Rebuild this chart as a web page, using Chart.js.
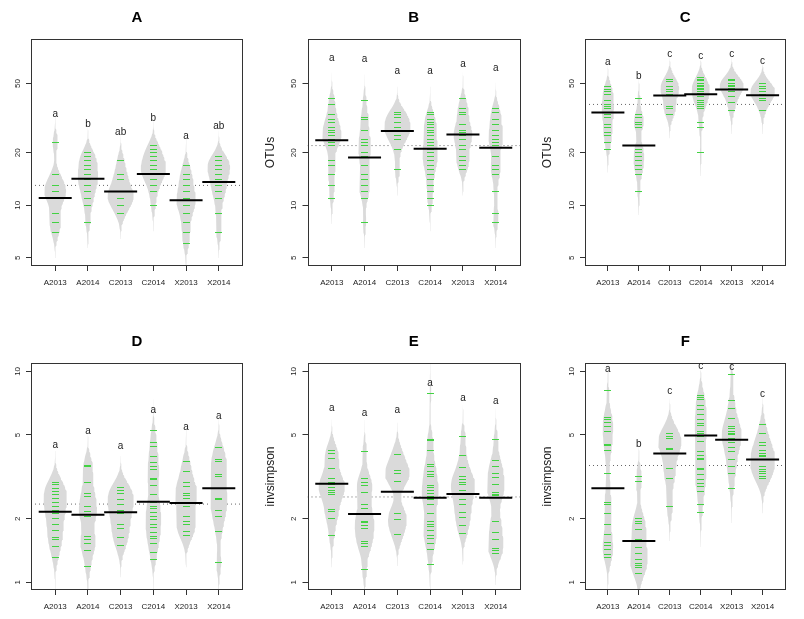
<!DOCTYPE html>
<html>
<head>
<meta charset="utf-8">
<script src="https://cdn.jsdelivr.net/npm/chart.js@4.4.1/dist/chart.umd.min.js"></script>
<style>
  html, body { margin: 0; padding: 0; background: #fff; }
  #wrap { position: relative; width: 804px; height: 619px; overflow: hidden; }
  #wrap canvas { position: absolute; left: 0; top: 0; }
</style>
</head>
<body>
<div id="wrap">
  <canvas id="pA" width="804" height="619"></canvas>
  <canvas id="pB" width="804" height="619"></canvas>
  <canvas id="pC" width="804" height="619"></canvas>
  <canvas id="pD" width="804" height="619"></canvas>
  <canvas id="pE" width="804" height="619"></canvas>
  <canvas id="pF" width="804" height="619"></canvas>
</div>
<script>
// groups on the x axis, same for every panel
const groups = ['A2013', 'A2014', 'C2013', 'C2014', 'X2013', 'X2014'];
const otuTicks = [5, 10, 20, 50];
const invTicks = [1, 2, 5, 10];

// ---- panel A (richness) : one array per group, same order as groups
const valuesA = [
  [7, 8, 9, 11, 11, 12, 13, 13, 15, 23],
  [8, 10, 11, 12, 13, 14, 14, 15, 16, 17, 18, 19, 20],
  [9, 10, 11, 11, 12, 12, 14, 15, 18],
  [10, 12, 13, 14, 15, 15, 16, 16, 17, 17, 18, 19, 20, 21, 22],
  [6, 7, 8, 9, 10, 10, 11, 11, 12, 13, 14, 15, 17],
  [7, 9, 11, 12, 13, 14, 15, 16, 17, 17, 18, 19]
];
const meansA = [11, 14.2, 12, 15.1, 10.7, 13.6];
const overallA = 13;
const lettersA = ['a', 'b', 'ab', 'b', 'a', 'ab'];
const letterAtA = [33.3, 29.1, 26.4, 31.5, 24.9, 28.4];

// ---- panel B (OTUs)
const valuesB = [
  [11, 13, 15, 17, 18, 22, 23, 24, 24, 25, 26, 27, 28, 30, 31, 33, 38, 41],
  [8, 11, 12, 13, 14, 15, 17, 19, 20, 22, 23, 24, 27, 31, 32, 40],
  [16, 21, 24, 25, 27, 27, 28, 30, 32, 33, 34],
  [10, 11, 12, 13, 14, 15, 16, 17, 17, 18, 18, 19, 20, 20, 21, 21, 22, 23, 24, 25, 26, 27, 28, 29, 30, 31, 33, 34],
  [16, 17, 18, 19, 21, 22, 24, 25, 26, 26, 27, 29, 33, 34, 36, 41],
  [8, 9, 12, 15, 16, 17, 19, 22, 23, 24, 25, 27, 29, 31, 34, 36]
];
const meansB = [23.6, 18.8, 26.7, 21.1, 25.5, 21.4];
const overallB = 22;
const lettersB = ['a', 'a', 'a', 'a', 'a', 'a'];
const letterAtB = [70, 68.8, 58.7, 58.7, 64.3, 60.8];

// ---- panel C (OTUs)
const valuesC = [
  [21, 23, 25, 26, 28, 29, 32, 33, 34, 36, 37, 38, 40, 43, 45, 46, 48],
  [12, 15, 16, 17, 18, 19, 20, 21, 22, 28, 29, 30, 32, 33, 41],
  [33, 36, 37, 43, 45, 46, 48, 51, 53],
  [20, 28, 30, 36, 37, 38, 39, 40, 42, 43, 44, 45, 46, 46, 47, 48, 49, 50, 52, 53, 54],
  [35, 39, 42, 45, 47, 48, 49, 49, 50, 52, 53],
  [35, 40, 41, 43, 45, 45, 47, 48, 50]
];
const meansC = [34.1, 22, 42.7, 43.3, 46.2, 42.8];
const overallC = 37.9;
const lettersC = ['a', 'b', 'c', 'c', 'c', 'c'];
const letterAtC = [66.1, 55.1, 73.4, 71.8, 73.4, 66.9];

// ---- panel D (diversity)
const valuesD = [
  [1.31, 1.48, 1.59, 1.64, 1.77, 1.89, 2.0, 2.13, 2.2, 2.3, 2.39, 2.5, 2.6, 2.69, 2.79, 2.9, 2.97],
  [1.19, 1.42, 1.53, 1.59, 1.65, 2.05, 2.09, 2.16, 2.29, 2.55, 2.65, 2.97, 3.54, 3.59],
  [1.49, 1.63, 1.8, 1.89, 2.13, 2.2, 2.35, 2.46, 2.65, 2.74, 2.81],
  [1.29, 1.38, 1.52, 1.62, 1.65, 1.73, 1.82, 1.89, 1.99, 2.05, 2.14, 2.24, 2.29, 2.39, 2.62, 2.88, 3.06, 3.12, 3.41, 3.54, 3.71, 3.94, 4.4, 4.62, 5.23],
  [1.66, 1.74, 1.88, 1.94, 2.05, 2.29, 2.5, 2.57, 2.65, 2.85, 2.97, 3.35, 3.74],
  [1.24, 1.74, 2.05, 2.2, 2.46, 2.5, 2.79, 3.17, 3.23, 3.74, 3.83, 4.36]
];
const meansD = [2.16, 2.09, 2.15, 2.41, 2.38, 2.79];
const overallD = 2.35;
const lettersD = ['a', 'a', 'a', 'a', 'a', 'a'];
const letterAtD = [4.45, 5.23, 4.4, 6.53, 5.46, 6.16];

// ---- panel E (invsimpson)
const valuesE = [
  [1.66, 2.01, 2.16, 2.22, 2.6, 2.66, 2.74, 2.82, 2.9, 2.98, 3.12, 3.45, 3.88, 4.1, 4.2],
  [1.15, 1.48, 1.53, 1.56, 1.8, 1.87, 1.92, 1.95, 2.24, 2.33, 2.66, 2.88, 2.98, 3.09, 4.16],
  [1.69, 1.98, 2.13, 3.0, 3.29, 3.39, 4.05],
  [1.22, 1.43, 1.53, 1.62, 1.66, 1.77, 1.84, 1.88, 1.95, 2.13, 2.33, 2.46, 2.5, 2.55, 2.65, 2.74, 2.81, 2.88, 3.17, 3.26, 3.35, 3.54, 3.63, 4.2, 4.7, 4.77, 7.83],
  [1.71, 1.86, 2.03, 2.15, 2.33, 2.46, 2.65, 2.74, 2.9, 2.97, 3.08, 3.17, 3.51, 4.01, 4.91],
  [1.37, 1.42, 1.45, 1.59, 1.72, 1.94, 1.95, 2.57, 2.62, 2.67, 2.92, 3.15, 3.27, 3.54, 3.78, 4.74]
];
const meansE = [2.93, 2.11, 2.69, 2.52, 2.62, 2.52];
const overallE = 2.54;
const lettersE = ['a', 'a', 'a', 'a', 'a', 'a'];
const letterAtE = [6.7, 6.34, 6.53, 8.8, 7.47, 7.2];

// ---- panel F (invsimpson)
const valuesF = [
  [1.31, 1.35, 1.43, 1.5, 1.54, 1.68, 1.88, 2.13, 2.35, 2.39, 2.79, 3.29, 4.22, 4.44, 4.52, 5.19, 5.48, 5.75, 5.9, 6.05, 8.12],
  [1.1, 1.18, 1.2, 1.23, 1.29, 1.37, 1.46, 1.56, 1.6, 1.78, 1.91, 1.95, 2.0, 3.0, 3.17],
  [2.29, 3.12, 3.45, 4.25, 4.3, 4.79, 4.91, 5.1],
  [2.15, 2.35, 2.71, 2.85, 2.95, 3.08, 3.23, 3.41, 3.48, 3.81, 3.88, 4.01, 4.17, 4.65, 4.91, 5.1, 5.19, 5.52, 5.69, 5.94, 6.23, 6.58, 6.87, 7.34, 7.55, 7.69],
  [2.79, 3.27, 3.54, 3.81, 4.17, 4.37, 4.6, 4.83, 5.0, 5.1, 5.19, 5.38, 5.48, 6.0, 6.7, 7.26, 9.64],
  [3.1, 3.17, 3.27, 3.35, 3.44, 3.54, 3.81, 3.95, 4.01, 4.1, 4.22, 4.44, 4.6, 5.1, 5.58]
];
const meansF = [2.79, 1.57, 4.08, 4.97, 4.74, 3.82];
const overallF = 3.58;
const lettersF = ['a', 'b', 'c', 'c', 'c', 'c'];
const letterAtF = [10.26, 4.52, 8.04, 10.56, 10.49, 7.8];

const FONT = "'Liberation Sans', Arial, Helvetica, sans-serif";
Chart.defaults.font.family = FONT;

const X_MIN = 0.26, X_MAX = 6.74;
const HALF = 0.4;          // max half width of a bean (x units)
const VIOLIN = '#dadada';
const GREEN = 'rgb(66,210,66)';

// 7x1 px green stroke used as point style for the bean lines (kept crisp)
function strokeImage(w, h, color) {
  const c = document.createElement('canvas');
  c.width = w; c.height = h;
  const g = c.getContext('2d');
  g.fillStyle = color;
  g.fillRect(0, 0, w, h);
  return c;
}
const beanMark = strokeImage(7, 1, GREEN);

const panels = [
  { id: 'pA', title: 'A', ylab: '',           box: [31, 39, 243, 266],    yTicks: otuTicks, yMin: 4.48, yMax: 90,    bw: 0.05,
    values: valuesA, means: meansA, overall: overallA, letters: lettersA, letterAt: letterAtA },
  { id: 'pB', title: 'B', ylab: 'OTUs',       box: [307.5, 39, 520, 266], yTicks: otuTicks, yMin: 4.48, yMax: 90,    bw: 0.05,
    values: valuesB, means: meansB, overall: overallB, letters: lettersB, letterAt: letterAtB },
  { id: 'pC', title: 'C', ylab: 'OTUs',       box: [585, 39, 797, 266],   yTicks: otuTicks, yMin: 4.48, yMax: 90,    bw: 0.045,
    values: valuesC, means: meansC, overall: overallC, letters: lettersC, letterAt: letterAtC },
  { id: 'pD', title: 'D', ylab: '',           box: [31, 363, 243, 590],   yTicks: invTicks, yMin: 0.92, yMax: 10.96, bw: 0.05,
    values: valuesD, means: meansD, overall: overallD, letters: lettersD, letterAt: letterAtD },
  { id: 'pE', title: 'E', ylab: 'invsimpson', box: [307.5, 363, 520, 590], yTicks: invTicks, yMin: 0.92, yMax: 10.96, bw: 0.05,
    values: valuesE, means: meansE, overall: overallE, letters: lettersE, letterAt: letterAtE },
  { id: 'pF', title: 'F', ylab: 'invsimpson', box: [585, 363, 797, 590],  yTicks: invTicks, yMin: 0.92, yMax: 10.96, bw: 0.055,
    values: valuesF, means: meansF, overall: overallF, letters: lettersF, letterAt: letterAtF }
];

// gaussian kernel density on log10 scale
function density(logs, t, bw) {
  let s = 0;
  for (const l of logs) {
    const z = (t - l) / bw;
    s += Math.exp(-0.5 * z * z);
  }
  return s / (logs.length * bw * Math.sqrt(2 * Math.PI));
}

// box, rotated y labels, letters, titles
const frame = {
  id: 'frame',
  beforeDatasetsDraw(chart) { chart.ctx.imageSmoothingEnabled = false; },
  afterDatasetsDraw(chart) { chart.ctx.imageSmoothingEnabled = true; },
  afterDraw(chart, args, o) {
    const { ctx, chartArea: a } = chart;
    const x = chart.scales.x, y = chart.scales.y;
    ctx.save();
    ctx.strokeStyle = '#333';
    ctx.lineWidth = 1;
    ctx.strokeRect(Math.round(a.left) + 0.5, Math.round(a.top) + 0.5,
                   Math.round(a.right - a.left) - 1, Math.round(a.bottom - a.top) - 1);
    ctx.fillStyle = '#222';
    ctx.textAlign = 'center';
    ctx.textBaseline = 'middle';
    ctx.font = '8px ' + FONT;
    o.yTicks.forEach(v => {
      ctx.save();
      ctx.translate(a.left - 13.5, y.getPixelForValue(v));
      ctx.rotate(-Math.PI / 2);
      ctx.fillText(String(v), 0, 0);
      ctx.restore();
    });
    ctx.font = '10px ' + FONT;
    o.letters.forEach((s, i) => {
      ctx.fillText(s, x.getPixelForValue(i + 1), y.getPixelForValue(o.letterAt[i]));
    });
    ctx.fillStyle = '#000';
    ctx.font = 'bold 15px ' + FONT;
    ctx.fillText(o.title, (a.left + a.right) / 2, a.top - 21);
    if (o.ylab) {
      ctx.fillStyle = '#222';
      ctx.font = '12px ' + FONT;
      ctx.translate(a.left - 37, (a.top + a.bottom) / 2);
      ctx.rotate(-Math.PI / 2);
      ctx.fillText(o.ylab, 0, 0);
    }
    ctx.restore();
  }
};

function makeChart(p) {
  const curves = p.values.map(vals => {
    const logs = vals.map(v => Math.log10(v));
    const lo = Math.min(...logs) - 3 * p.bw;
    const hi = Math.max(...logs) + 3 * p.bw;
    const pts = [];
    for (let k = 0; k <= 90; k++) {
      const t = lo + (hi - lo) * k / 90;
      pts.push([t, density(logs, t, p.bw)]);
    }
    return pts;
  });
  const peak = Math.max(...curves.map(c => Math.max(...c.map(q => q[1]))));

  const datasets = [];
  // overall average, dotted
  datasets.push({
    data: [{ x: X_MIN, y: p.overall }, { x: X_MAX, y: p.overall }],
    borderColor: '#666', borderWidth: 1, borderDash: [1, 3], pointRadius: 0, fill: false, order: 40
  });
  curves.forEach((c, i) => {
    const cx = i + 1;
    datasets.push({
      data: c.map(([t, d]) => ({ x: cx + HALF * d / peak, y: Math.pow(10, t) })),
      fill: '+1', backgroundColor: VIOLIN, borderWidth: 0, pointRadius: 0, order: 30
    });
    datasets.push({
      data: c.map(([t, d]) => ({ x: cx - HALF * d / peak, y: Math.pow(10, t) })),
      fill: false, borderWidth: 0, pointRadius: 0, order: 30
    });
  });
  // bean lines
  datasets.push({
    data: p.values.flatMap((vals, i) => vals.map(v => ({ x: i + 1, y: v }))),
    showLine: false, fill: false, pointStyle: beanMark, pointRadius: 3.5, order: 20
  });
  // bean averages
  datasets.push({
    data: p.means.map((m, i) => ({ x: i + 1, y: m })),
    showLine: false, fill: false, pointStyle: 'line', pointRadius: 16.5,
    pointBorderColor: '#000', pointBorderWidth: 2, order: 10
  });

  const [L, T, R, B] = p.box;
  const AXIS_H = 30;
  return new Chart(document.getElementById(p.id), {
    type: 'line',
    data: { datasets },
    options: {
      indexAxis: 'y',
      responsive: false,
      animation: false,
      devicePixelRatio: 1,
      events: [],
      layout: { padding: { left: L, top: T, right: 804 - R, bottom: 619 - B - AXIS_H } },
      plugins: {
        legend: { display: false },
        tooltip: { enabled: false },
        frame: { title: p.title, ylab: p.ylab, yTicks: p.yTicks, letters: p.letters, letterAt: p.letterAt }
      },
      scales: {
        x: {
          type: 'linear', position: 'bottom', min: X_MIN, max: X_MAX,
          afterBuildTicks: s => { s.ticks = groups.map((g, i) => ({ value: i + 1 })); },
          afterFit: s => { s.height = AXIS_H; },
          ticks: {
            callback: v => groups[v - 1],
            font: { size: 8 }, color: '#222', padding: 7, maxRotation: 0, autoSkip: false
          },
          grid: { drawOnChartArea: false, drawTicks: true, tickLength: 5, color: '#333' },
          border: { display: false }
        },
        y: {
          type: 'logarithmic', position: 'left', min: p.yMin, max: p.yMax,
          afterBuildTicks: s => { s.ticks = p.yTicks.map(v => ({ value: v })); },
          afterFit: s => { s.width = 0; },
          ticks: { display: false },
          grid: { drawOnChartArea: false, drawTicks: true, tickLength: 5, color: '#333' },
          border: { display: false }
        }
      }
    },
    plugins: [frame]
  });
}

panels.forEach(makeChart);
</script>
</body>
</html>
